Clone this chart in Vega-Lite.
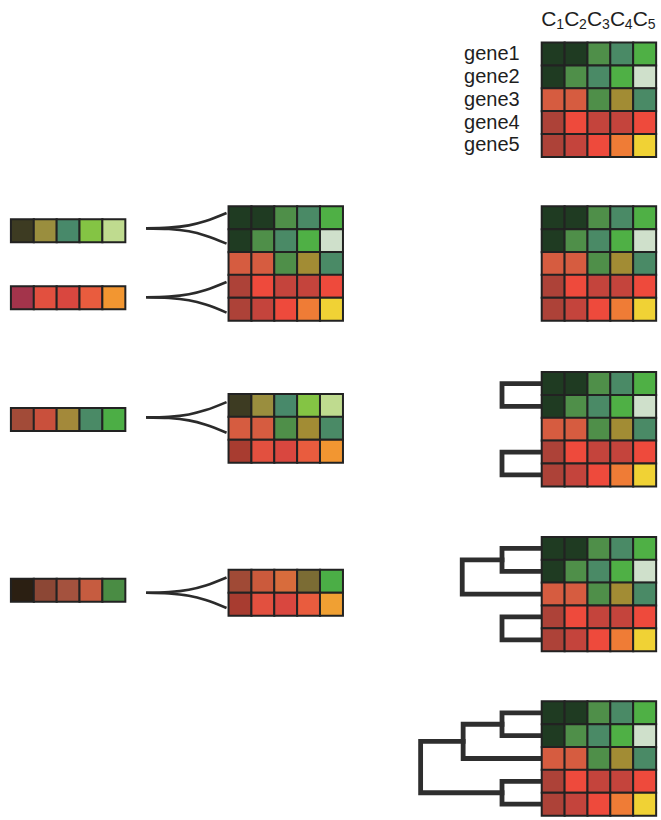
{
 "$schema": "https://vega.github.io/schema/vega-lite/v6.json",
 "width": 661, "height": 820,
 "autosize": {"type": "fit", "contains": "padding"},
 "padding": 0,
 "background": "#ffffff",
 "config": {"view": {"stroke": null}},
 "datasets": {
  "cells": [
   {"x":24.2,"y":2.37,"k":"dg"},{"x":25.2,"y":2.37,"k":"dg"},{"x":26.2,"y":2.37,"k":"mg"},{"x":27.2,"y":2.37,"k":"tg"},{"x":28.2,"y":2.37,"k":"bg"},
   {"x":24.2,"y":3.37,"k":"dg"},{"x":25.2,"y":3.37,"k":"mg"},{"x":26.2,"y":3.37,"k":"tg"},{"x":27.2,"y":3.37,"k":"bg"},{"x":28.2,"y":3.37,"k":"pl"},
   {"x":24.2,"y":4.37,"k":"ro"},{"x":25.2,"y":4.37,"k":"ro"},{"x":26.2,"y":4.37,"k":"mg"},{"x":27.2,"y":4.37,"k":"ol"},{"x":28.2,"y":4.37,"k":"tg"},
   {"x":24.2,"y":5.37,"k":"br"},{"x":25.2,"y":5.37,"k":"rb"},{"x":26.2,"y":5.37,"k":"rm"},{"x":27.2,"y":5.37,"k":"rm"},{"x":28.2,"y":5.37,"k":"rb"},
   {"x":24.2,"y":6.37,"k":"br"},{"x":25.2,"y":6.37,"k":"rm"},{"x":26.2,"y":6.37,"k":"rb"},{"x":27.2,"y":6.37,"k":"or"},{"x":28.2,"y":6.37,"k":"ye"},

   {"x":24.2,"y":9.54,"k":"dg"},{"x":25.2,"y":9.54,"k":"dg"},{"x":26.2,"y":9.54,"k":"mg"},{"x":27.2,"y":9.54,"k":"tg"},{"x":28.2,"y":9.54,"k":"bg"},
   {"x":24.2,"y":10.54,"k":"dg"},{"x":25.2,"y":10.54,"k":"mg"},{"x":26.2,"y":10.54,"k":"tg"},{"x":27.2,"y":10.54,"k":"bg"},{"x":28.2,"y":10.54,"k":"pl"},
   {"x":24.2,"y":11.54,"k":"ro"},{"x":25.2,"y":11.54,"k":"ro"},{"x":26.2,"y":11.54,"k":"mg"},{"x":27.2,"y":11.54,"k":"ol"},{"x":28.2,"y":11.54,"k":"tg"},
   {"x":24.2,"y":12.54,"k":"br"},{"x":25.2,"y":12.54,"k":"rb"},{"x":26.2,"y":12.54,"k":"rm"},{"x":27.2,"y":12.54,"k":"rm"},{"x":28.2,"y":12.54,"k":"rb"},
   {"x":24.2,"y":13.54,"k":"br"},{"x":25.2,"y":13.54,"k":"rm"},{"x":26.2,"y":13.54,"k":"rb"},{"x":27.2,"y":13.54,"k":"or"},{"x":28.2,"y":13.54,"k":"ye"},

   {"x":24.2,"y":16.8,"k":"dg"},{"x":25.2,"y":16.8,"k":"dg"},{"x":26.2,"y":16.8,"k":"mg"},{"x":27.2,"y":16.8,"k":"tg"},{"x":28.2,"y":16.8,"k":"bg"},
   {"x":24.2,"y":17.8,"k":"dg"},{"x":25.2,"y":17.8,"k":"mg"},{"x":26.2,"y":17.8,"k":"tg"},{"x":27.2,"y":17.8,"k":"bg"},{"x":28.2,"y":17.8,"k":"pl"},
   {"x":24.2,"y":18.8,"k":"ro"},{"x":25.2,"y":18.8,"k":"ro"},{"x":26.2,"y":18.8,"k":"mg"},{"x":27.2,"y":18.8,"k":"ol"},{"x":28.2,"y":18.8,"k":"tg"},
   {"x":24.2,"y":19.8,"k":"br"},{"x":25.2,"y":19.8,"k":"rb"},{"x":26.2,"y":19.8,"k":"rm"},{"x":27.2,"y":19.8,"k":"rm"},{"x":28.2,"y":19.8,"k":"rb"},
   {"x":24.2,"y":20.8,"k":"br"},{"x":25.2,"y":20.8,"k":"rm"},{"x":26.2,"y":20.8,"k":"rb"},{"x":27.2,"y":20.8,"k":"or"},{"x":28.2,"y":20.8,"k":"ye"},

   {"x":24.2,"y":24.02,"k":"dg"},{"x":25.2,"y":24.02,"k":"dg"},{"x":26.2,"y":24.02,"k":"mg"},{"x":27.2,"y":24.02,"k":"tg"},{"x":28.2,"y":24.02,"k":"bg"},
   {"x":24.2,"y":25.02,"k":"dg"},{"x":25.2,"y":25.02,"k":"mg"},{"x":26.2,"y":25.02,"k":"tg"},{"x":27.2,"y":25.02,"k":"bg"},{"x":28.2,"y":25.02,"k":"pl"},
   {"x":24.2,"y":26.02,"k":"ro"},{"x":25.2,"y":26.02,"k":"ro"},{"x":26.2,"y":26.02,"k":"mg"},{"x":27.2,"y":26.02,"k":"ol"},{"x":28.2,"y":26.02,"k":"tg"},
   {"x":24.2,"y":27.02,"k":"br"},{"x":25.2,"y":27.02,"k":"rb"},{"x":26.2,"y":27.02,"k":"rm"},{"x":27.2,"y":27.02,"k":"rm"},{"x":28.2,"y":27.02,"k":"rb"},
   {"x":24.2,"y":28.02,"k":"br"},{"x":25.2,"y":28.02,"k":"rm"},{"x":26.2,"y":28.02,"k":"rb"},{"x":27.2,"y":28.02,"k":"or"},{"x":28.2,"y":28.02,"k":"ye"},

   {"x":24.2,"y":31.22,"k":"dg"},{"x":25.2,"y":31.22,"k":"dg"},{"x":26.2,"y":31.22,"k":"mg"},{"x":27.2,"y":31.22,"k":"tg"},{"x":28.2,"y":31.22,"k":"bg"},
   {"x":24.2,"y":32.22,"k":"dg"},{"x":25.2,"y":32.22,"k":"mg"},{"x":26.2,"y":32.22,"k":"tg"},{"x":27.2,"y":32.22,"k":"bg"},{"x":28.2,"y":32.22,"k":"pl"},
   {"x":24.2,"y":33.22,"k":"ro"},{"x":25.2,"y":33.22,"k":"ro"},{"x":26.2,"y":33.22,"k":"mg"},{"x":27.2,"y":33.22,"k":"ol"},{"x":28.2,"y":33.22,"k":"tg"},
   {"x":24.2,"y":34.22,"k":"br"},{"x":25.2,"y":34.22,"k":"rb"},{"x":26.2,"y":34.22,"k":"rm"},{"x":27.2,"y":34.22,"k":"rm"},{"x":28.2,"y":34.22,"k":"rb"},
   {"x":24.2,"y":35.22,"k":"br"},{"x":25.2,"y":35.22,"k":"rm"},{"x":26.2,"y":35.22,"k":"rb"},{"x":27.2,"y":35.22,"k":"or"},{"x":28.2,"y":35.22,"k":"ye"},

   {"x":10.5,"y":9.54,"k":"dg"},{"x":11.5,"y":9.54,"k":"dg"},{"x":12.5,"y":9.54,"k":"mg"},{"x":13.5,"y":9.54,"k":"tg"},{"x":14.5,"y":9.54,"k":"bg"},
   {"x":10.5,"y":10.54,"k":"dg"},{"x":11.5,"y":10.54,"k":"mg"},{"x":12.5,"y":10.54,"k":"tg"},{"x":13.5,"y":10.54,"k":"bg"},{"x":14.5,"y":10.54,"k":"pl"},
   {"x":10.5,"y":11.54,"k":"ro"},{"x":11.5,"y":11.54,"k":"ro"},{"x":12.5,"y":11.54,"k":"mg"},{"x":13.5,"y":11.54,"k":"ol"},{"x":14.5,"y":11.54,"k":"tg"},
   {"x":10.5,"y":12.54,"k":"br"},{"x":11.5,"y":12.54,"k":"rb"},{"x":12.5,"y":12.54,"k":"rm"},{"x":13.5,"y":12.54,"k":"rm"},{"x":14.5,"y":12.54,"k":"rb"},
   {"x":10.5,"y":13.54,"k":"br"},{"x":11.5,"y":13.54,"k":"rm"},{"x":12.5,"y":13.54,"k":"rb"},{"x":13.5,"y":13.54,"k":"or"},{"x":14.5,"y":13.54,"k":"ye"},

   {"x":10.5,"y":17.76,"k":"a1"},{"x":11.5,"y":17.76,"k":"a2"},{"x":12.5,"y":17.76,"k":"a3"},{"x":13.5,"y":17.76,"k":"a4"},{"x":14.5,"y":17.76,"k":"a5"},
   {"x":10.5,"y":18.76,"k":"ro"},{"x":11.5,"y":18.76,"k":"ro"},{"x":12.5,"y":18.76,"k":"mg"},{"x":13.5,"y":18.76,"k":"ol"},{"x":14.5,"y":18.76,"k":"tg"},
   {"x":10.5,"y":19.76,"k":"c1"},{"x":11.5,"y":19.76,"k":"b2"},{"x":12.5,"y":19.76,"k":"b3"},{"x":13.5,"y":19.76,"k":"b4"},{"x":14.5,"y":19.76,"k":"b5"},

   {"x":10.5,"y":25.46,"k":"e1"},{"x":11.5,"y":25.46,"k":"e2"},{"x":12.5,"y":25.46,"k":"e3"},{"x":13.5,"y":25.46,"k":"e4"},{"x":14.5,"y":25.46,"k":"e5"},
   {"x":10.5,"y":26.46,"k":"c1"},{"x":11.5,"y":26.46,"k":"b2"},{"x":12.5,"y":26.46,"k":"b3"},{"x":13.5,"y":26.46,"k":"b4"},{"x":14.5,"y":26.46,"k":"f5"},

   {"x":0.98,"y":10.11,"k":"a1"},{"x":1.98,"y":10.11,"k":"a2"},{"x":2.98,"y":10.11,"k":"a3"},{"x":3.98,"y":10.11,"k":"a4"},{"x":4.98,"y":10.11,"k":"a5"},
   {"x":0.98,"y":13.04,"k":"b1"},{"x":1.98,"y":13.04,"k":"b2"},{"x":2.98,"y":13.04,"k":"b3"},{"x":3.98,"y":13.04,"k":"b4"},{"x":4.98,"y":13.04,"k":"b5"},
   {"x":0.98,"y":18.37,"k":"d1"},{"x":1.98,"y":18.37,"k":"d2"},{"x":2.98,"y":18.37,"k":"d3"},{"x":3.98,"y":18.37,"k":"d4"},{"x":4.98,"y":18.37,"k":"d5"},
   {"x":0.98,"y":25.85,"k":"g1"},{"x":1.98,"y":25.85,"k":"g2"},{"x":2.98,"y":25.85,"k":"g3"},{"x":3.98,"y":25.85,"k":"g4"},{"x":4.98,"y":25.85,"k":"g5"}
  ],
  "tree": [
   {"id":"p3a","o":0,"x":23.7,"y":16.8},{"id":"p3a","o":1,"x":21.96,"y":16.8},{"id":"p3a","o":2,"x":21.96,"y":17.8},{"id":"p3a","o":3,"x":23.7,"y":17.8},
   {"id":"p3b","o":0,"x":23.7,"y":19.8},{"id":"p3b","o":1,"x":21.96,"y":19.8},{"id":"p3b","o":2,"x":21.96,"y":20.8},{"id":"p3b","o":3,"x":23.7,"y":20.8},
   {"id":"p4a","o":0,"x":23.7,"y":24.02},{"id":"p4a","o":1,"x":21.96,"y":24.02},{"id":"p4a","o":2,"x":21.96,"y":25.02},{"id":"p4a","o":3,"x":23.7,"y":25.02},
   {"id":"p4b","o":0,"x":21.96,"y":24.52},{"id":"p4b","o":1,"x":20.22,"y":24.52},{"id":"p4b","o":2,"x":20.22,"y":26.02},{"id":"p4b","o":3,"x":23.7,"y":26.02},
   {"id":"p4c","o":0,"x":23.7,"y":27.02},{"id":"p4c","o":1,"x":21.96,"y":27.02},{"id":"p4c","o":2,"x":21.96,"y":28.02},{"id":"p4c","o":3,"x":23.7,"y":28.02},
   {"id":"p5a","o":0,"x":23.7,"y":31.22},{"id":"p5a","o":1,"x":21.96,"y":31.22},{"id":"p5a","o":2,"x":21.96,"y":32.22},{"id":"p5a","o":3,"x":23.7,"y":32.22},
   {"id":"p5b","o":0,"x":21.96,"y":31.72},{"id":"p5b","o":1,"x":20.26,"y":31.72},{"id":"p5b","o":2,"x":20.26,"y":33.22},{"id":"p5b","o":3,"x":23.7,"y":33.22},
   {"id":"p5c","o":0,"x":23.7,"y":34.22},{"id":"p5c","o":1,"x":21.96,"y":34.22},{"id":"p5c","o":2,"x":21.96,"y":35.22},{"id":"p5c","o":3,"x":23.7,"y":35.22},
   {"id":"p5d","o":0,"x":20.26,"y":32.47},{"id":"p5d","o":1,"x":18.4,"y":32.47},{"id":"p5d","o":2,"x":18.4,"y":34.72},{"id":"p5d","o":3,"x":21.96,"y":34.72}
  ],
  "forks": [
   {"id":"f1t","o":0,"x":6.39,"y":10.0},{"id":"f1t","o":1,"x":7.39,"y":9.97},{"id":"f1t","o":2,"x":8.26,"y":9.87},{"id":"f1t","o":3,"x":9.0,"y":9.68},{"id":"f1t","o":4,"x":9.91,"y":9.33},
   {"id":"f1b","o":0,"x":6.39,"y":10.0},{"id":"f1b","o":1,"x":7.39,"y":10.03},{"id":"f1b","o":2,"x":8.26,"y":10.13},{"id":"f1b","o":3,"x":9.0,"y":10.32},{"id":"f1b","o":4,"x":9.91,"y":10.67},
   {"id":"f2t","o":0,"x":6.39,"y":13.02},{"id":"f2t","o":1,"x":7.39,"y":12.99},{"id":"f2t","o":2,"x":8.26,"y":12.89},{"id":"f2t","o":3,"x":9.0,"y":12.7},{"id":"f2t","o":4,"x":9.91,"y":12.35},
   {"id":"f2b","o":0,"x":6.39,"y":13.02},{"id":"f2b","o":1,"x":7.39,"y":13.05},{"id":"f2b","o":2,"x":8.26,"y":13.15},{"id":"f2b","o":3,"x":9.0,"y":13.34},{"id":"f2b","o":4,"x":9.91,"y":13.69},
   {"id":"f3t","o":0,"x":6.39,"y":18.28},{"id":"f3t","o":1,"x":7.39,"y":18.25},{"id":"f3t","o":2,"x":8.26,"y":18.15},{"id":"f3t","o":3,"x":9.0,"y":17.96},{"id":"f3t","o":4,"x":9.91,"y":17.61},
   {"id":"f3b","o":0,"x":6.39,"y":18.28},{"id":"f3b","o":1,"x":7.39,"y":18.31},{"id":"f3b","o":2,"x":8.26,"y":18.41},{"id":"f3b","o":3,"x":9.0,"y":18.6},{"id":"f3b","o":4,"x":9.91,"y":18.95},
   {"id":"f4t","o":0,"x":6.39,"y":25.96},{"id":"f4t","o":1,"x":7.39,"y":25.93},{"id":"f4t","o":2,"x":8.26,"y":25.83},{"id":"f4t","o":3,"x":9.0,"y":25.64},{"id":"f4t","o":4,"x":9.91,"y":25.29},
   {"id":"f4b","o":0,"x":6.39,"y":25.96},{"id":"f4b","o":1,"x":7.39,"y":25.99},{"id":"f4b","o":2,"x":8.26,"y":26.09},{"id":"f4b","o":3,"x":9.0,"y":26.28},{"id":"f4b","o":4,"x":9.91,"y":26.63}
  ],
  "genes": [
   {"x":20.3,"y":2.37,"t":"gene1"},{"x":20.3,"y":3.37,"t":"gene2"},{"x":20.3,"y":4.37,"t":"gene3"},{"x":20.3,"y":5.37,"t":"gene4"},{"x":20.3,"y":6.37,"t":"gene5"}
  ],
  "heads": [
   {"x":23.68,"y":1.14,"t":"C"},{"x":24.68,"y":1.14,"t":"C"},{"x":25.68,"y":1.14,"t":"C"},{"x":26.68,"y":1.14,"t":"C"},{"x":27.68,"y":1.14,"t":"C"}
  ],
  "subs": [
   {"x":24.33,"y":1.27,"t":"1"},{"x":25.33,"y":1.27,"t":"2"},{"x":26.33,"y":1.27,"t":"3"},{"x":27.33,"y":1.27,"t":"4"},{"x":28.33,"y":1.27,"t":"5"}
  ]
 },
 "encoding": {
  "x": {"field": "x", "type": "quantitative", "scale": {"domain": [0, 28.74], "nice": false, "zero": false}, "axis": null},
  "y": {"field": "y", "type": "quantitative", "scale": {"domain": [0, 35.65], "nice": false, "zero": false, "reverse": true}, "axis": null}
 },
 "layer": [
  {
   "data": {"name": "forks"},
   "mark": {"type": "line", "interpolate": "monotone", "stroke": "#2b2b2b", "strokeWidth": 2.6},
   "encoding": {"detail": {"field": "id", "type": "nominal"}, "order": {"field": "o", "type": "quantitative"}}
  },
  {
   "data": {"name": "tree"},
   "mark": {"type": "line", "stroke": "#2e2e2e", "strokeWidth": 4.8, "strokeCap": "square", "strokeJoin": "miter"},
   "encoding": {"detail": {"field": "id", "type": "nominal"}, "order": {"field": "o", "type": "quantitative"}}
  },
  {
   "data": {"name": "cells"},
   "mark": {"type": "point", "shape": "square", "size": 529, "filled": true, "opacity": 1, "stroke": "#222222", "strokeWidth": 2},
   "encoding": {
    "fill": {"field": "k", "type": "nominal", "legend": null, "scale": {
     "domain": ["dg","mg","tg","bg","pl","ro","ol","br","rb","rm","or","ye","a1","a2","a3","a4","a5","b1","b2","b3","b4","b5","c1","d1","d2","d3","d4","d5","e1","e2","e3","e4","e5","f5","g1","g2","g3","g4","g5"],
     "range": ["#1f3b22","#4f8f49","#4a8a66","#4fb045","#cfe0cb","#d65c40","#a28c34","#ad4238","#ee4a3c","#c4443c","#ef7c36","#f0d235","#3d3b22","#9a8e3e","#48896a","#84c444","#bfdb8f","#a3344b","#e2503f","#d9473f","#e95c3e","#f29631","#a83c30","#a24b38","#c9503c","#a3893a","#4a8a66","#4cae45","#a04a36","#cb5a3c","#d86c3c","#7b6c34","#4bae46","#f0a033","#2b1f12","#8c4735","#a4523e","#c65c40","#4a8c44"]
    }}
   }
  },
  {
   "data": {"name": "genes"},
   "mark": {"type": "text", "align": "left", "baseline": "middle", "font": "Liberation Sans", "fontSize": 20, "color": "#1e1e1e"},
   "encoding": {"text": {"field": "t"}}
  },
  {
   "data": {"name": "heads"},
   "mark": {"type": "text", "align": "left", "baseline": "alphabetic", "font": "Liberation Sans", "fontSize": 21, "color": "#1e1e1e"},
   "encoding": {"text": {"field": "t"}}
  },
  {
   "data": {"name": "subs"},
   "mark": {"type": "text", "align": "left", "baseline": "alphabetic", "font": "Liberation Sans", "fontSize": 14, "color": "#1e1e1e"},
   "encoding": {"text": {"field": "t"}}
  }
 ]
}
